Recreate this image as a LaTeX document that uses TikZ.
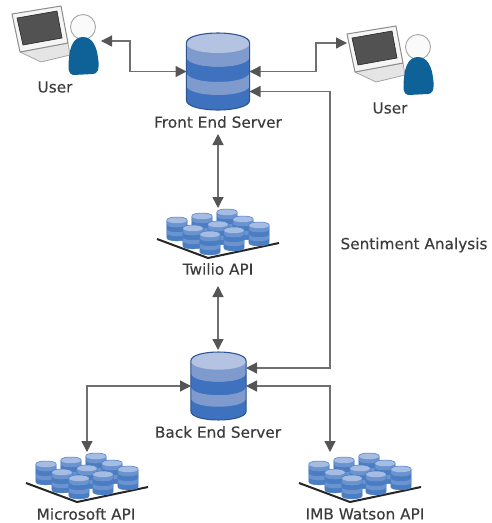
\documentclass[tikz,border=0pt]{standalone}
\usepackage{fontspec}
\setmainfont[FakeBold=0.25]{DejaVu Sans}
\usetikzlibrary{arrows.meta}
\definecolor{dbedge}{HTML}{2F5590}
\definecolor{dbtop}{HTML}{B4C3E2}
\definecolor{dbmid}{HTML}{7F9BCD}
\definecolor{dbdark}{HTML}{3F72BE}
\definecolor{txt}{HTML}{3C3C3C}
\definecolor{linec}{HTML}{707070}
\definecolor{headc}{HTML}{555555}
\definecolor{userblue}{HTML}{0F6298}
\tikzset{
  x=1pt,y=-1pt,
  hit/.style={inner sep=0pt,outer sep=0pt,draw=none},
  lbl/.style={font=\fontsize{15.3}{17}\selectfont,text=txt,inner sep=0pt},
  conn/.style={draw=linec,line width=1.3pt,{Triangle[length=11pt,width=11pt,color=headc]}-{Triangle[length=11pt,width=11pt,color=headc]}},
}
\newcommand{\cyl}[6]{%
  \begin{scope}[shift={(#1,#2)},xscale=#3,yscale=#4]
    \path[fill=dbdark] (-31,10) -- (31,10) -- (31,67) .. controls (31,80.3) and (-31,80.3) .. (-31,67) -- cycle;
    \path[fill=dbmid] (-31,10) -- (31,10) -- (31,24) .. controls (31,37.3) and (-31,37.3) .. (-31,24) -- cycle;
    \path[fill=dbdark] (-31,24) .. controls (-31,37.3) and (31,37.3) .. (31,24) -- (31,39) .. controls (31,52.3) and (-31,52.3) .. (-31,39) -- cycle;
    \path[fill=dbmid] (-31,39) .. controls (-31,52.3) and (31,52.3) .. (31,39) -- (31,52) .. controls (31,65.3) and (-31,65.3) .. (-31,52) -- cycle;
    \path[fill=dbtop] (-31,10) .. controls (-31,-3.3) and (31,-3.3) .. (31,10) .. controls (31,23.3) and (-31,23.3) .. (-31,10) -- cycle;
    \draw[draw=#5,line width=#6] (-31,10) .. controls (-31,-3.3) and (31,-3.3) .. (31,10) -- (31,67) .. controls (31,80.3) and (-31,80.3) .. (-31,67) -- cycle;
  \end{scope}}
\newcommand{\cluster}[2]{%
  \begin{scope}[shift={(#1,#2)}]
    \definecolor{dbmid}{HTML}{6A93CF}
    \definecolor{dbtop}{HTML}{A5BDE3}
    \definecolor{dbdark}{HTML}{4A7DC2}
    \fill[white] (157,239) -- (220,222) -- (279,243) -- (208,258) -- cycle;
    \draw[black!85,line width=2pt,line join=round] (157,239) -- (208,258) -- (279,243);
    \foreach \cx/\cy in {227/209,202/213,177/217,243/216,218/221,193/225,259/222,234/227,210/231}{
      \cyl{\cx}{\cy}{0.33}{0.31}{dbdark}{0.5pt}
    }
  \end{scope}}
\newcommand{\person}[2]{%
  \begin{scope}[shift={(#1,#2)}]
    \fill[black!10,draw=black!35,line width=.8pt,line join=round] (20,52) -- (68,43) -- (70,55) -- (41,62) -- cycle;
    \draw[fill=black!4,draw=black!45,line width=1pt,line join=round] (12,14) -- (61,6) -- (68,43) -- (20,52) -- cycle;
    \fill[black!68,draw=black!85,line width=.6pt] (17,18) -- (57,11) -- (62,38) -- (23,45) -- cycle;
    \draw[fill=white!96!gray,draw=black!35,line width=.9pt] (83,27) circle (12.5);
    \fill[userblue] (83,37) .. controls (93,37) and (97,48) .. (98,58) .. controls (100,70) and (97,74) .. (93,74) -- (73,75) .. controls (68,74) and (68,68) .. (69,58) .. controls (70,46) and (74,37) .. (83,37) -- cycle;
  \end{scope}}
\begin{document}
\begin{tikzpicture}
\useasboundingbox (0,0) rectangle (491,523);
\fill[white] (0,0) rectangle (491,523);
\person{0}{0}
\person{335}{20}
\cyl{218}{33}{1.02}{1}{dbedge}{1.1pt}
\cyl{218.5}{352}{0.89}{0.883}{dbedge}{1.1pt}
\cluster{0}{0}
\cluster{-131}{244}
\cluster{142}{244}
\node[hit,minimum width=89pt,minimum height=60pt] (u1) at (56.5,41) {};
\node[hit,minimum width=90pt,minimum height=60pt] (u2) at (392,43) {};
\node[hit,minimum width=63pt,minimum height=77pt] (front) at (218,71.5) {};
\node[hit,minimum width=55pt,minimum height=68pt] (back) at (218.5,386) {};
\node[hit,minimum width=122pt,minimum height=50pt] (twilio) at (218,233) {};
\node[hit,minimum width=122pt,minimum height=50pt] (ms) at (87,477) {};
\node[hit,minimum width=122pt,minimum height=50pt] (watson) at (360,477) {};
\coordinate (rail) at (330,230);
\coordinate (railA) at (130,56);
\coordinate (railB) at (316,56);
\node[lbl] (lu1) at (55,87) {User};
\node[lbl] (lu2) at (390,108) {User};
\node[lbl] (lfront) at (218,122) {Front End Server};
\node[lbl] (ltwilio) at (218,269) {Twilio API};
\node[lbl] (lback) at (218,432) {Back End Server};
\node[lbl] (lms) at (86,514) {Microsoft API};
\node[lbl] (lwatson) at (365,514) {IMB Watson API};
\node[lbl] (lsa) at (414,245) {Sentiment Analysis};
\draw[conn] (u1.east) -| (railA) |- (front.west);
\draw[conn] (front.east) -| (railB) |- (u2.west);
\draw[conn] ([yshift=-20pt]front.east) -| (rail) |- ([yshift=18pt]back.east);
\draw[conn] (218,134) -- (twilio.north);
\draw[conn] (twilio.south |- 0,286) -- (218,350);
\draw[conn] (back.west) -| (ms.north);
\draw[conn] (back.east) -| ([xshift=-30pt]watson.north);
\end{tikzpicture}
\end{document}
